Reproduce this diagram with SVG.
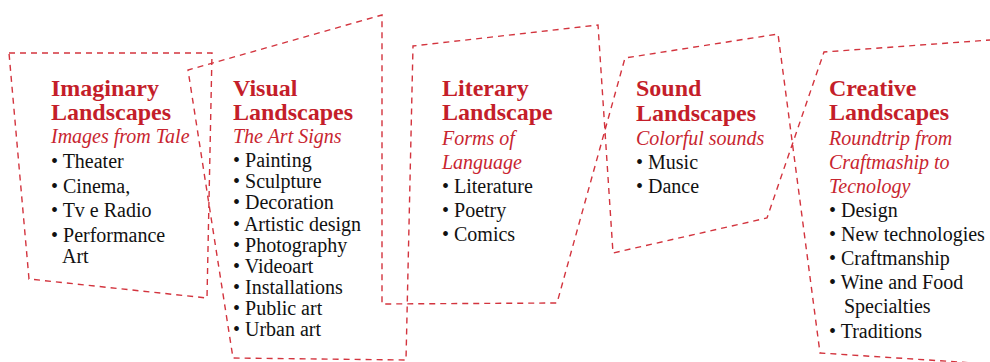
<svg xmlns="http://www.w3.org/2000/svg" width="990" height="362" viewBox="0 0 990 362">
<style>
.frame{fill:none;stroke:#d3343e;stroke-width:1.4;stroke-dasharray:6 5;stroke-linejoin:miter}
.t{font-family:"Liberation Serif","Times New Roman",serif;font-weight:bold;font-size:24px;fill:#c41e2a}
.s{font-family:"Liberation Serif","Times New Roman",serif;font-style:italic;font-size:20px;fill:#c8252f}
.b{font-family:"Liberation Serif","Times New Roman",serif;font-size:20px;fill:#111}
</style>
<rect width="990" height="362" fill="#fff"/>
<g id="connectors">
<polyline class="frame" points="990,364 820,353 778,34 625,58 557,303 382,304 382,15 188,70 233,358 406,360 413,46 598,25 613,253 767,218 824,52 990,40"/>
</g>
<g id="imaginary">
<polygon class="frame" points="9,53 212,53 207,298 29,279"/>
<text class="t" x="51" y="96">Imaginary</text>
<text class="t" x="51" y="120">Landscapes</text>
<text class="s" x="51" y="143">Images from Tale</text>
<text class="b" x="51" y="168">• Theater</text>
<text class="b" x="51" y="193">• Cinema,</text>
<text class="b" x="51" y="217">• Tv e Radio</text>
<text class="b" x="51" y="242">• Performance</text>
<text class="b" x="62" y="263">Art</text>
</g>
<g id="visual">
<text class="t" x="233" y="96">Visual</text>
<text class="t" x="233" y="120">Landscapes</text>
<text class="s" x="233" y="143">The Art Signs</text>
<text class="b" x="233" y="167">• Painting</text>
<text class="b" x="233" y="188">• Sculpture</text>
<text class="b" x="233" y="209">• Decoration</text>
<text class="b" x="233" y="231">• Artistic design</text>
<text class="b" x="233" y="252">• Photography</text>
<text class="b" x="233" y="273">• Videoart</text>
<text class="b" x="233" y="294">• Installations</text>
<text class="b" x="233" y="315">• Public art</text>
<text class="b" x="233" y="336">• Urban art</text>
</g>
<g id="literary">
<text class="t" x="442" y="96">Literary</text>
<text class="t" x="442" y="120">Landscape</text>
<text class="s" x="442" y="145">Forms of</text>
<text class="s" x="442" y="169">Language</text>
<text class="b" x="442" y="193">• Literature</text>
<text class="b" x="442" y="217">• Poetry</text>
<text class="b" x="442" y="241">• Comics</text>
</g>
<g id="sound">
<text class="t" x="636" y="96">Sound</text>
<text class="t" x="636" y="121">Landscapes</text>
<text class="s" x="636" y="145">Colorful sounds</text>
<text class="b" x="636" y="169">• Music</text>
<text class="b" x="636" y="193">• Dance</text>
</g>
<g id="creative">
<text class="t" x="829" y="96">Creative</text>
<text class="t" x="829" y="120">Landscapes</text>
<text class="s" x="829" y="145">Roundtrip from</text>
<text class="s" x="829" y="169">Craftmaship to</text>
<text class="s" x="829" y="193">Tecnology</text>
<text class="b" x="829" y="217">• Design</text>
<text class="b" x="829" y="241">• New technologies</text>
<text class="b" x="829" y="265">• Craftmanship</text>
<text class="b" x="829" y="289">• Wine and Food</text>
<text class="b" x="844" y="313">Specialties</text>
<text class="b" x="829" y="338">• Traditions</text>
</g>
</svg>
